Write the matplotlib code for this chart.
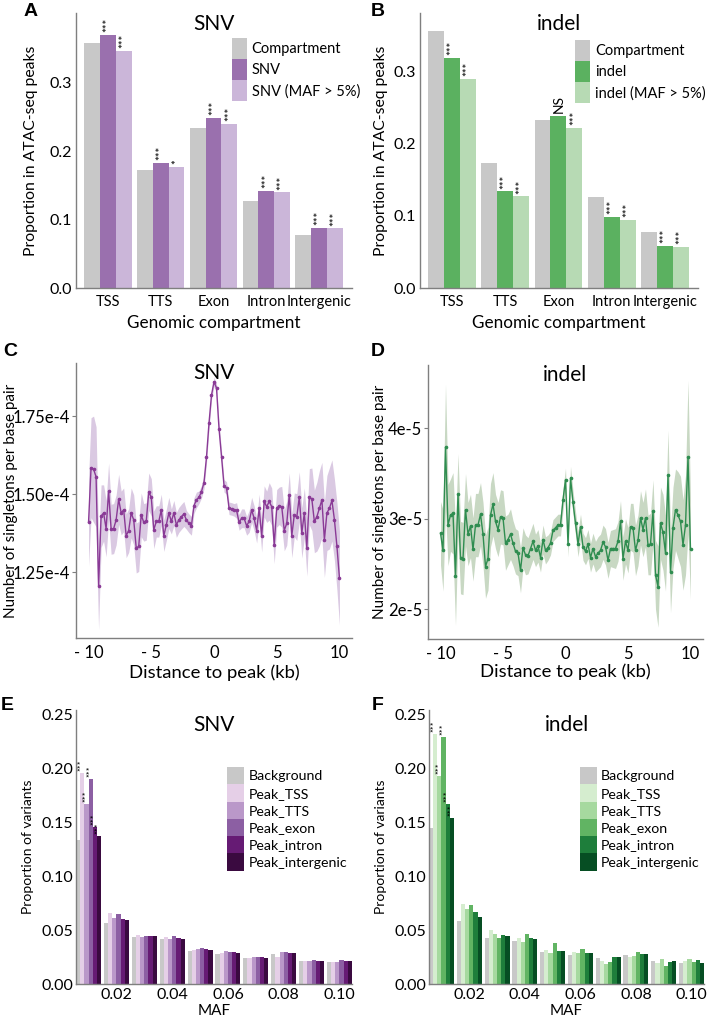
import numpy as np
import matplotlib
matplotlib.use("Agg")
import matplotlib.pyplot as plt

plt.rcParams['font.family'] = ['Lato', 'DejaVu Sans']

# ---- panel A / B : proportion in ATAC-seq peaks ----
compartments = ["TSS", "TTS", "Exon", "Intron", "Intergenic"]
comp_share = [0.3575, 0.173, 0.2333, 0.1271, 0.0779]
snv_share = [0.3697, 0.1827, 0.2484, 0.1422, 0.0882]
snv_maf_share = [0.347, 0.1773, 0.2397, 0.1398, 0.0872]
snv_sig = ["***", "***", "***", "***", "***"]
snv_maf_sig = ["***", "*", "***", "***", "***"]

comp_share_b = [0.3567, 0.173, 0.2321, 0.1264, 0.0775]
indel_share = [0.3184, 0.1338, 0.2386, 0.0983, 0.0586]
indel_maf_share = [0.2898, 0.1269, 0.222, 0.0946, 0.0568]
indel_sig = ["***", "***", "NS", "***", "***"]
indel_maf_sig = ["***", "***", "***", "***", "***"]

# ---- panel C / D : singletons per base pair around peaks ----
distance_kb = np.round(np.arange(-10, 10.01, 0.2), 1)
snv_density = [
    1.41, 1.585, 1.58, 1.556, 1.207, 1.43, 1.44, 1.39, 1.51, 1.388,
    1.39, 1.418, 1.484, 1.44, 1.45, 1.367, 1.384, 1.44, 1.418, 1.328,
    1.333, 1.434, 1.41, 1.413, 1.508, 1.49, 1.386, 1.413, 1.413, 1.45,
    1.367, 1.402, 1.44, 1.413, 1.44, 1.402, 1.418, 1.428, 1.437, 1.418,
    1.407, 1.399, 1.463, 1.482, 1.49, 1.508, 1.537,
    1.618, 1.727, 1.817, 1.86, 1.84, 1.71, 1.62, 1.527, 1.52,
    1.455, 1.453, 1.45, 1.448, 1.41, 1.423, 1.423, 1.399, 1.413, 1.45,
    1.423, 1.384, 1.455, 1.365, 1.477, 1.46, 1.477, 1.46, 1.338, 1.455,
    1.463, 1.46, 1.384, 1.407, 1.498, 1.367, 1.434, 1.427, 1.492, 1.376,
    1.44, 1.328, 1.492, 1.484, 1.413, 1.428, 1.455, 1.482, 1.354, 1.44,
    1.455, 1.48, 1.418, 1.333, 1.232]  # x 1e-4
snv_halfwidth = [
    0.14, 0.16, 0.17, 0.16, 0.14, 0.10, 0.09, 0.09, 0.09, 0.08,
    0.08, 0.08, 0.08, 0.07, 0.07, 0.07, 0.07, 0.08, 0.08, 0.08,
    0.08, 0.07, 0.06, 0.06, 0.06, 0.06, 0.06, 0.05, 0.05, 0.05,
    0.05, 0.05, 0.05, 0.04, 0.04, 0.04, 0.04, 0.04, 0.04, 0.03,
    0.03, 0.03, 0.025, 0.025, 0.02, 0.02, 0.02,
    0.02, 0.02, 0.015, 0.015, 0.015, 0.02, 0.02, 0.02, 0.02,
    0.02, 0.02, 0.02, 0.025, 0.025, 0.03, 0.03, 0.03, 0.035, 0.04,
    0.04, 0.04, 0.045, 0.05, 0.05, 0.05, 0.06, 0.06, 0.06, 0.06,
    0.06, 0.065, 0.065, 0.07, 0.07, 0.07, 0.07, 0.075, 0.08, 0.08,
    0.08, 0.09, 0.09, 0.10, 0.10, 0.11, 0.12, 0.12, 0.12, 0.12,
    0.13, 0.13, 0.13, 0.14, 0.15]

indel_density = [
    2.84, 2.65, 3.79, 2.93, 3.04, 3.06, 2.37, 3.27, 2.57, 2.56,
    3.10, 2.83, 2.92, 2.66, 2.93, 2.93, 3.05, 2.83, 2.47, 2.56,
    3.04, 3.16, 2.97, 2.88, 3.02, 3.01, 2.73, 2.77, 2.83, 2.73,
    2.64, 2.62, 2.43, 2.68, 2.60, 2.59, 2.67, 2.75, 2.65, 2.70,
    2.57, 2.77, 2.65, 2.68, 2.73, 2.87, 2.90,
    2.93, 2.93, 3.21, 3.43, 2.72, 3.45, 3.18, 2.95, 2.72,
    2.91, 2.69, 2.64, 2.72, 2.57, 2.67, 2.58, 2.62, 2.65, 2.74,
    2.69, 2.54, 2.67, 2.67, 2.67, 2.75, 2.97, 2.56, 2.75, 2.65,
    2.91, 2.90, 2.65, 2.76, 3.01, 2.88, 3.01, 2.71, 2.72, 3.08,
    2.38, 2.25, 2.95, 2.85, 2.62, 3.48, 2.41, 2.90, 3.10, 3.04,
    2.97, 2.71, 2.93, 3.68, 2.66]  # x 1e-5
indel_halfwidth = [
    0.35, 0.45, 0.70, 0.45, 0.40, 0.45, 0.55, 0.45, 0.40, 0.40,
    0.40, 0.35, 0.35, 0.35, 0.35, 0.35, 0.35, 0.35, 0.35, 0.35,
    0.35, 0.35, 0.30, 0.30, 0.30, 0.30, 0.30, 0.28, 0.28, 0.25,
    0.25, 0.25, 0.25, 0.22, 0.22, 0.20, 0.20, 0.20, 0.18, 0.18,
    0.16, 0.16, 0.15, 0.14, 0.13, 0.12, 0.12,
    0.12, 0.12, 0.12, 0.13, 0.14, 0.13, 0.13, 0.13, 0.14,
    0.14, 0.15, 0.15, 0.16, 0.16, 0.17, 0.17, 0.18, 0.18, 0.19,
    0.20, 0.20, 0.20, 0.21, 0.22, 0.22, 0.23, 0.24, 0.25, 0.25,
    0.26, 0.27, 0.28, 0.28, 0.30, 0.30, 0.32, 0.33, 0.34, 0.35,
    0.38, 0.45, 0.40, 0.42, 0.42, 0.50, 0.45, 0.45, 0.45, 0.48,
    0.50, 0.50, 0.55, 0.85, 0.55]

# ---- panel E / F : MAF spectrum ----
maf_bins = [0.01, 0.02, 0.03, 0.04, 0.05, 0.06, 0.07, 0.08, 0.09, 0.10]
maf_groups = ["Background", "Peak_TSS", "Peak_TTS", "Peak_exon", "Peak_intron", "Peak_intergenic"]
snv_maf = {
    "Background":      [0.1337, 0.057, 0.0433, 0.0415, 0.031, 0.0279, 0.0245, 0.0276, 0.0214, 0.0207],
    "Peak_TSS":        [0.196, 0.066, 0.0455, 0.0433, 0.0316, 0.0291, 0.0238, 0.0254, 0.0214, 0.0207],
    "Peak_TTS":        [0.167, 0.061, 0.0433, 0.0418, 0.0328, 0.031, 0.0254, 0.0297, 0.0214, 0.0204],
    "Peak_exon":       [0.190, 0.0647, 0.0449, 0.0443, 0.0337, 0.0294, 0.0248, 0.030, 0.0223, 0.0223],
    "Peak_intron":     [0.146, 0.0607, 0.0446, 0.043, 0.0325, 0.030, 0.0248, 0.0291, 0.0217, 0.0217],
    "Peak_intergenic": [0.1375, 0.0594, 0.0446, 0.0415, 0.0316, 0.0285, 0.0245, 0.0285, 0.0214, 0.0217],
}
indel_maf = {
    "Background":      [0.1452, 0.0588, 0.043, 0.0402, 0.030, 0.0269, 0.0238, 0.0269, 0.0214, 0.0198],
    "Peak_TSS":        [0.232, 0.074, 0.050, 0.0424, 0.0316, 0.030, 0.0214, 0.0254, 0.0192, 0.0217],
    "Peak_TTS":        [0.193, 0.0693, 0.0464, 0.0387, 0.0291, 0.0291, 0.0186, 0.026, 0.0232, 0.0232],
    "Peak_exon":       [0.229, 0.0734, 0.0424, 0.0464, 0.0378, 0.0322, 0.0207, 0.030, 0.0167, 0.0207],
    "Peak_intron":     [0.167, 0.0666, 0.0455, 0.0424, 0.0307, 0.0285, 0.0248, 0.0279, 0.0201, 0.0223],
    "Peak_intergenic": [0.1545, 0.0625, 0.0446, 0.0418, 0.0307, 0.0285, 0.0248, 0.0279, 0.0214, 0.0192],
}
maf_ticks = [0.02, 0.04, 0.06, 0.08, 0.10]

GRAY = "#c8c8c8"
SPINE = "#7f7f7f"
purple_bars = [GRAY, "#9a70ae", "#cbb6d9"]
green_bars = [GRAY, "#5bb160", "#b7dab4"]
purple_maf = [GRAY, "#e5cfe7", "#ba98c9", "#8c5fa3", "#661b74", "#3a0a40"]
green_maf = [GRAY, "#d5edcf", "#a6d99f", "#61b463", "#1e7e3b", "#064e23"]

fig = plt.figure(figsize=(7.09, 10.19), dpi=100)
W, H = 709, 1019


def add_ax(left, top, right, bottom):
    return fig.add_axes([left / W, 1 - bottom / H, (right - left) / W, (bottom - top) / H])


def style(ax, tick_fs):
    for s in ["top", "right"]:
        ax.spines[s].set_visible(False)
    for s in ["left", "bottom"]:
        ax.spines[s].set_color(SPINE)
        ax.spines[s].set_linewidth(1.0)
    ax.tick_params(labelsize=tick_fs, colors="black")


def place_labels(ax, ylab_x, xlab_y):
    # label centres in axes coordinates
    ax.yaxis.set_label_coords(ylab_x, 0.5)
    ax.yaxis.label.set_va("center")
    ax.xaxis.set_label_coords(0.5, xlab_y)
    ax.xaxis.label.set_va("center")


def letter(x, y, s):
    fig.text(x / W, 1 - y / H, s, fontsize=14, fontweight="bold",
             family="Liberation Sans", va="center", ha="left")


def compartment_panel(ax, title, shares, labels, colors, sigs):
    width = 0.3
    x = np.arange(len(compartments))
    for j, (vals, lab, col) in enumerate(zip(shares, labels, colors)):
        pos = x + (j - 1) * width
        ax.bar(pos, vals, width, color=col, label=lab, linewidth=0)
        if j > 0:
            for p, v, s in zip(pos, vals, sigs[j - 1]):
                fs = 10 if s == "NS" else 8
                ax.annotate(s, (p, v), xytext=(0, 2), textcoords="offset points",
                            rotation=90, ha="center", va="bottom", fontsize=fs)
    style(ax, 11.5)
    ax.set_xlim(-0.6, 4.62)
    ax.set_xticks(x)
    ax.set_xticklabels(compartments, fontsize=10.5)
    ax.tick_params(axis="both", length=0)
    ax.tick_params(axis="x", pad=5)
    ax.tick_params(axis="y", pad=3)
    ax.set_yticks([0.0, 0.1, 0.2, 0.3])
    ax.set_xlabel("Genomic compartment", fontsize=12.3)
    ax.set_ylabel("Proportion in ATAC-seq peaks", fontsize=11.3)
    ax.text(0.5, 0.96, title, transform=ax.transAxes, ha="center", va="center", fontsize=15)
    ax.legend(loc="upper left", frameon=False, fontsize=10.5,
              handlelength=1.05, handleheight=1.85, labelspacing=0.0, handletextpad=0.3,
              borderpad=0, borderaxespad=0)


# A
axA = add_ax(76, 13, 352, 288)
compartment_panel(axA, "SNV", [comp_share, snv_share, snv_maf_share],
                  ["Compartment", "SNV", "SNV (MAF > 5%)"], purple_bars,
                  [snv_sig, snv_maf_sig])
axA.set_ylim(0, 0.402)
axA.get_legend().set_bbox_to_anchor((0.565, 0.909))
place_labels(axA, -0.163, -0.126)

# B
axB = add_ax(420, 13, 698, 288)
compartment_panel(axB, "indel", [comp_share_b, indel_share, indel_maf_share],
                  ["Compartment", "indel", "indel (MAF > 5%)"], green_bars,
                  [indel_sig, indel_maf_sig])
axB.set_ylim(0, 0.381)
axB.get_legend().set_bbox_to_anchor((0.558, 0.902))
place_labels(axB, -0.14, -0.126)


def profile_panel(ax, title, vals, hw, scale, line_col, band_col, ylim, yticks, ylabels):
    v = np.array(vals) * scale
    h = np.array(hw) * scale
    ax.fill_between(distance_kb, v - h, v + h, color=band_col, linewidth=0)
    ax.plot(distance_kb, v, color=line_col, lw=1.0, marker="o", ms=1.6)
    style(ax, 12)
    ax.set_xlim(-11, 11)
    ax.set_ylim(*ylim)
    ax.set_xticks([-10, -5, 0, 5, 10])
    ax.set_xticklabels(["- 10", "- 5", "0", "5", "10"])
    ax.set_yticks(yticks)
    ax.set_yticklabels(ylabels)
    ax.tick_params(axis="x", length=0, pad=5)
    ax.tick_params(axis="y", length=3, width=0.8, color=SPINE, pad=1)
    ax.set_xlabel("Distance to peak (kb)", fontsize=13.3)
    ax.set_ylabel("Number of singletons per base pair", fontsize=11)
    ax.text(0.5, 0.965, title, transform=ax.transAxes, ha="center", va="center", fontsize=15)


# C
axC = add_ax(76, 363, 352, 638)
profile_panel(axC, "SNV", snv_density, snv_halfwidth, 1e-4, "#8a3a96", "#dac9e2",
              (1.04e-4, 1.92e-4), [1.25e-4, 1.5e-4, 1.75e-4], ["1.25e-4", "1.50e-4", "1.75e-4"])
place_labels(axC, -0.236, -0.125)

# D
axD = add_ax(428, 365, 703, 639)
profile_panel(axD, "indel", indel_density, indel_halfwidth, 1e-5, "#2f8d50", "#c8d8c3",
              (1.67e-5, 4.7e-5), [2e-5, 3e-5, 4e-5], ["2e-5", "3e-5", "4e-5"])
place_labels(axD, -0.175, -0.118)


def maf_panel(ax, title, data, colors):
    bw = 0.0015
    for k, g in enumerate(maf_groups):
        pos = np.array(maf_bins) + (k - 2.5) * bw
        ax.bar(pos, data[g], bw, color=colors[k], label=g, linewidth=0)
        if k > 0:
            ax.annotate("***", (pos[0], data[g][0]), xytext=(0, 1.5), textcoords="offset points",
                        rotation=90, ha="center", va="bottom", fontsize=6.5)
    style(ax, 11.5)
    ax.set_xlim(0.0055, 0.1045)
    ax.set_ylim(0, 0.2545)
    ax.set_xticks(maf_ticks)
    ax.set_xticklabels(["0.02", "0.04", "0.06", "0.08", "0.10"])
    ax.set_yticks([0.0, 0.05, 0.10, 0.15, 0.20, 0.25])
    ax.set_yticklabels(["0.00", "0.05", "0.10", "0.15", "0.20", "0.25"])
    ax.tick_params(axis="both", length=0)
    ax.tick_params(axis="x", pad=3)
    ax.tick_params(axis="y", pad=2)
    ax.set_xlabel("MAF", fontsize=11)
    ax.set_ylabel("Proportion of variants", fontsize=10)
    ax.text(0.5, 0.945, title, transform=ax.transAxes, ha="center", va="center", fontsize=15)
    ax.legend(loc="upper left", bbox_to_anchor=(0.548, 0.792), frameon=False, fontsize=10.2,
              handlelength=1.2, handleheight=1.5, labelspacing=0.0, handletextpad=0.3,
              borderpad=0, borderaxespad=0)
    place_labels(ax, -0.174, -0.1)


# E
axE = add_ax(76, 710, 352, 984)
maf_panel(axE, "SNV", snv_maf, purple_maf)

# F
axF = add_ax(429, 710, 704, 984)
maf_panel(axF, "indel", indel_maf, green_maf)

letter(24, 11, "A")
letter(371, 11, "B")
letter(3, 351, "C")
letter(371, 351, "D")
letter(1, 706, "E")
letter(372, 706, "F")

fig.savefig("out.png", dpi=100)
